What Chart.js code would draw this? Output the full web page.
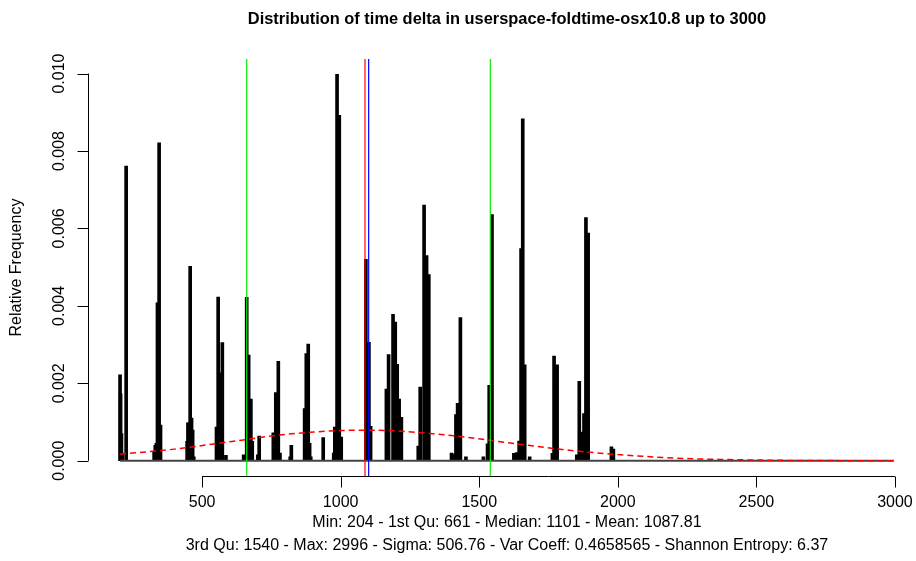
<!DOCTYPE html>
<html>
<head>
<meta charset="utf-8">
<script src="https://cdn.jsdelivr.net/npm/chart.js@4"></script>
<style>
html,body{margin:0;padding:0;background:#fff;overflow:hidden;}
#wrap{width:930px;height:561px;}
</style>
</head>
<body>
<div id="wrap"><canvas id="c" width="930" height="561"></canvas></div>
<script>
// ---- data ----
const spikeX = [204,206,209,212,226,
  327,331,335,339,345,350,
  446,449,453,457,462,466,470,
  552,558,566,573,586,
  650,661,668,676,681,701,706,
  757,766,775,781,818,822,
  870,876,883,888,892,937,
  975,979,987,995,1002,
  1091,1102,1108,
  1165,1173,1189,1197,1204,1211,1219,
  1280,1287,1301,1305,1310,1318,
  1400,1407,1416,1422,1432,1452,
  1515,1530,1536,1546,
  1625,1635,1644,1651,1657,1664,1682,
  1764,1770,1775,1781,
  1852,1861,1870,1878,1885,1893,
  1977,1984];
const spikeY = [0.00222,0.00173,0.0007,0.0002,0.00761,
  0.00023,0.0004,0.00045,0.00408,0.00821,0.00092,
  0.0005,0.00098,0.00098,0.00502,0.0011,0.00079,0.0001,
  0.00087,0.00423,0.00227,0.00305,0.00014,
  0.00015,0.00422,0.00273,0.00159,0.0005,0.00015,0.00064,
  0.00072,0.00176,0.00257,0.0002,0.0001,0.0004,
  0.00135,0.00277,0.00301,0.00045,0.0001,0.0006,
  0.0002,0.00087,0.00998,0.00892,0.00061,
  0.0052,0.00306,0.00089,
  0.00185,0.00274,0.00378,0.00358,0.00249,0.00159,0.00112,
  0.00038,0.0019,0.0066,0.0028,0.0053,0.00481,
  0.0002,0.00017,0.00119,0.00148,0.0037,0.0001,
  0.0001,0.00044,0.00195,0.00636,
  0.00019,0.00021,0.00051,0.00548,0.00883,0.00248,0.0001,
  0.00019,0.0027,0.00195,0.00248,
  0.00015,0.00205,0.00074,0.00122,0.00628,0.00588,
  0.00036,0.0003];
const curveX = [204,400,600,800,1000,1100,1200,1400,1600,1800,2000,2200,2400,2600,2800,2996];
const curveY = [0.00017,0.0003,0.00049,0.00068,0.00078,0.00079,0.00077,0.00065,0.00047,0.00029,0.00016,0.00007,0.00003,0.00001,0.000003,0.000001];
const xTickValues = [500,1000,1500,2000,2500,3000];
const yTickValues = [0,0.002,0.004,0.006,0.008,0.010];
const statMin = 204, statQ1 = 661, statMedian = 1101, statMean = 1087.81, statQ3 = 1540, statMax = 2996;
const titleText = "Distribution of time delta in userspace-foldtime-osx10.8 up to 3000";
const yTitle = "Relative Frequency";
const summaryLines = [
  "Min: 204 - 1st Qu: 661 - Median: 1101 - Mean: 1087.81",
  "3rd Qu: 1540 - Max: 2996 - Sigma: 506.76 - Var Coeff: 0.4658565 - Shannon Entropy: 6.37"
];

// ---- axis extents like R (4% extension) ----
const xPad = (statMax - statMin) * 0.04;
const yDataMax = Math.max(...spikeY);
const yPad = yDataMax * 0.04;

const FONT = "'Liberation Sans', Arial, Helvetica, sans-serif";
const TICK_LEN = 11;

const statLines = {
  id: 'statLines',
  afterDatasetsDraw(chart) {
    const {ctx, chartArea: a, scales: {x}} = chart;
    const items = [[statQ1, '#00ee00'], [statQ3, '#00ee00'], [statMean, '#ff0000'], [statMedian, '#0000ff']];
    ctx.save();
    ctx.lineWidth = 1.2;
    items.forEach(([v, c]) => {
      const px = x.getPixelForValue(v);
      ctx.strokeStyle = c;
      ctx.beginPath();
      ctx.moveTo(px, a.top);
      ctx.lineTo(px, a.bottom);
      ctx.stroke();
    });
    ctx.restore();
  }
};

// R-style axes: line only between first and last tick, outward tick marks
const rAxes = {
  id: 'rAxes',
  afterDraw(chart) {
    const {ctx, chartArea: a, scales: {x, y}} = chart;
    ctx.save();
    ctx.strokeStyle = '#000';
    ctx.lineWidth = 1;
    ctx.beginPath();
    const by = Math.round(a.bottom) + 0.5;
    ctx.moveTo(x.getPixelForValue(xTickValues[0]), by);
    ctx.lineTo(x.getPixelForValue(xTickValues[xTickValues.length - 1]), by);
    xTickValues.forEach(v => {
      const px = Math.round(x.getPixelForValue(v)) + 0.5;
      ctx.moveTo(px, by);
      ctx.lineTo(px, by + TICK_LEN);
    });
    const lx = Math.round(a.left) - 0.5;
    ctx.moveTo(lx, y.getPixelForValue(yTickValues[0]));
    ctx.lineTo(lx, y.getPixelForValue(yTickValues[yTickValues.length - 1]));
    yTickValues.forEach(v => {
      const py = Math.round(y.getPixelForValue(v)) + 0.5;
      ctx.moveTo(lx, py);
      ctx.lineTo(lx - TICK_LEN, py);
    });
    ctx.stroke();
    ctx.restore();
  }
};

new Chart(document.getElementById('c'), {
  type: 'bar',
  data: {
    datasets: [
      {
        type: 'line',
        order: 0,
        data: curveX.map((x, i) => ({x, y: curveY[i]})),
        borderColor: '#ff0000',
        borderWidth: 1.5,
        borderDash: [6, 4],
        pointRadius: 0,
        cubicInterpolationMode: 'monotone',
        fill: false
      },
      {
        type: 'line',
        order: 1,
        data: [{x: statMin, y: 0}, {x: statMax, y: 0}],
        borderColor: '#444',
        borderWidth: 2,
        pointRadius: 0,
        fill: false
      },
      {
        type: 'bar',
        order: 2,
        data: spikeX.map((x, i) => ({x, y: spikeY[i]})),
        backgroundColor: '#000',
        borderWidth: 0,
        barThickness: 3
      }
    ]
  },
  options: {
    responsive: false,
    animation: false,
    events: [],
    layout: {padding: {left: 0, right: 5.2, top: 0, bottom: 0}},
    plugins: {
      legend: {display: false},
      tooltip: {enabled: false},
      title: {
        display: true,
        text: titleText,
        fullSize: false,
        color: '#000',
        font: {family: FONT, size: 16.4, weight: 'bold'},
        padding: {top: 9.6, bottom: 29.6}
      }
    },
    scales: {
      x: {
        type: 'linear',
        min: statMin - xPad,
        max: statMax + xPad,
        offset: false,
        afterBuildTicks: s => { s.ticks = xTickValues.map(v => ({value: v})); },
        afterFit: s => { s.height = 84.8; },
        grid: {display: false, offset: false, drawTicks: true, tickLength: TICK_LEN},
        border: {display: false},
        ticks: {
          autoSkip: false, maxRotation: 0, minRotation: 0,
          color: '#000', padding: 6.2,
          font: {family: FONT, size: 16},
          callback: v => String(v)
        },
        title: {
          display: true,
          text: summaryLines,
          color: '#000',
          font: {family: FONT, size: 16, lineHeight: 23 / 16},
          padding: {top: 0, bottom: 3.5}
        }
      },
      y: {
        type: 'linear',
        position: 'left',
        min: -yPad,
        max: yDataMax + yPad,
        afterBuildTicks: s => { s.ticks = yTickValues.map(v => ({value: v})); },
        afterFit: s => { s.width = 89.1; },
        grid: {display: false, drawTicks: true, tickLength: TICK_LEN},
        border: {display: false},
        ticks: {
          autoSkip: false, minRotation: 90, maxRotation: 90,
          crossAlign: 'center',
          color: '#000', padding: -1.1,
          font: {family: FONT, size: 16},
          callback: v => v.toFixed(3)
        },
        title: {
          display: true,
          text: yTitle,
          color: '#000',
          font: {family: FONT, size: 16},
          padding: {top: 7.2, bottom: 0}
        }
      }
    }
  },
  plugins: [statLines, rAxes]
});
</script>
</body>
</html>
